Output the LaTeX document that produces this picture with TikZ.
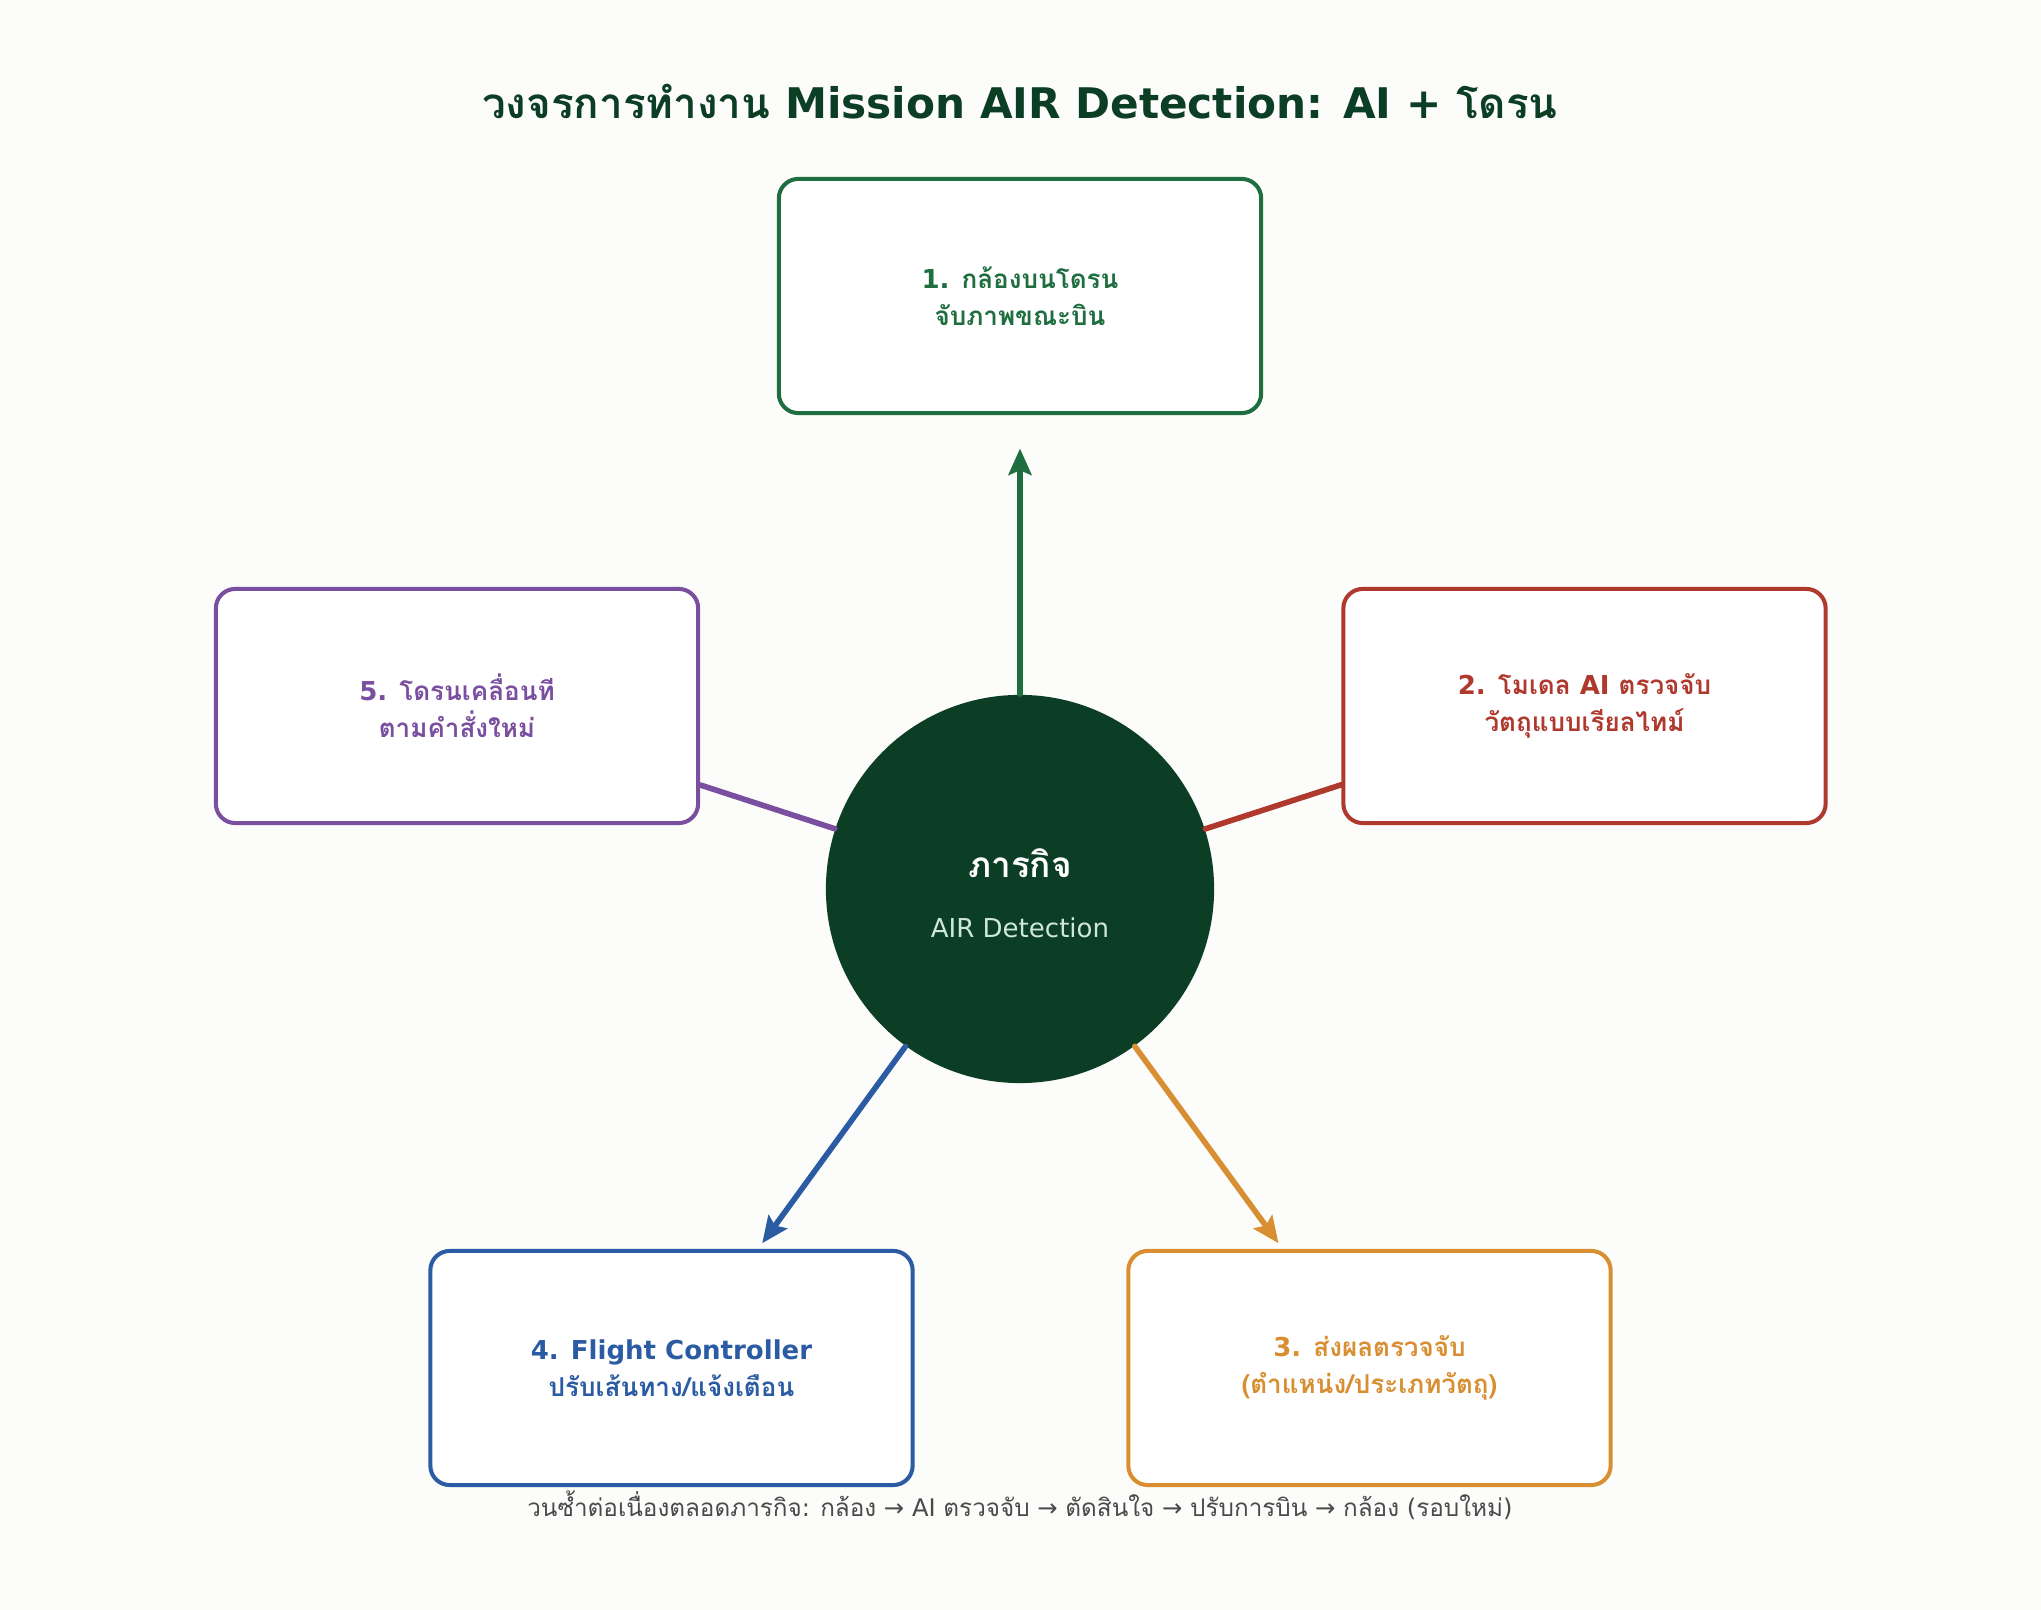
\documentclass[tikz,border=0pt]{standalone}
\usepackage{fontspec}
\setmainfont{DejaVu Sans}
\newfontfamily\thaifont[Script=Thai]{Loma}
\usetikzlibrary{arrows.meta}
\definecolor{bg}{HTML}{FCFCFA}
\definecolor{deep}{HTML}{0C3D25}
\definecolor{cgreen}{HTML}{1F6E40}
\definecolor{cred}{HTML}{B0392E}
\definecolor{cpurple}{HTML}{7A4FA0}
\definecolor{cblue}{HTML}{2B5CA3}
\definecolor{corange}{HTML}{D88F32}
\definecolor{mint}{HTML}{CDE8D6}
\definecolor{note}{HTML}{4A4A4A}
\newcommand\tx[1]{{\thaifont #1}}
\begin{document}
\begin{tikzpicture}[x=0.01cm,y=-0.01cm,
  box/.style={draw,line width=1.15pt,fill=white,rounded corners=5.5pt,minimum width=4.82cm,minimum height=2.34cm,
    align=center,inner sep=0pt,font=\bfseries\fontsize{7.4}{10.5}\selectfont},
  hub/.style={circle,fill=deep,minimum size=3.88cm,inner sep=0pt},
  link/.style={line width=1.6pt,line cap=round},
  flow/.style={link,-{Stealth[length=7.5pt,width=6.5pt,inset=1.3pt]}}]
  \fill[bg] (0,0) rectangle (2041,1610);
  \useasboundingbox (0,0) rectangle (2041,1610);
  % title
  \node[text=deep,font=\bfseries\fontsize{12}{14}\selectfont] (ttl) at (1020,102)
    {\tx{วงจรการทำงาน} Mission AIR Detection: AI + \tx{โดรน}};
  % hub
  \node[hub] (hub) at (1020,889) {};
  \node[text=white,font=\bfseries\fontsize{10}{12}\selectfont] (hubt) at (1020,863) {\tx{ภารกิจ}};
  \node[text=mint,font=\fontsize{7.4}{9}\selectfont] (hubs) at (1020,928) {AIR Detection};
  % steps
  \node[box,draw=cgreen,text=cgreen] (s1) at (1020,296) {1. \tx{กล้องบนโดรน}\\\tx{จับภาพขณะบิน}};
  \node[box,draw=cred,text=cred] (s2) at (1584.5,706) {2. \tx{โมเดล} AI \tx{ตรวจจับ}\\\tx{วัตถุแบบเรียลไทม์}};
  \node[box,draw=corange,text=corange] (s3) at (1369.5,1368) {3. \tx{ส่งผลตรวจจับ}\\\tx{(ตำแหน่ง/ประเภทวัตถุ)}};
  \node[box,draw=cblue,text=cblue] (s4) at (671.5,1368) {4. Flight Controller\\\tx{ปรับเส้นทาง/แจ้งเตือน}};
  \node[box,draw=cpurple,text=cpurple] (s5) at (457,706) {5. \tx{โดรนเคลื่อนที}\\\tx{ตามคำสั่งใหม่}};
  % links
  \draw[flow,cgreen,shorten >=9.5pt] (hub) -- (s1);
  \draw[link,cred] (hub) -- (s2);
  \draw[flow,corange,shorten >=2pt] (hub) -- (s3);
  \draw[flow,cblue,shorten >=2pt] (hub) -- (s4);
  \draw[link,cpurple] (hub) -- (s5);
  % footer
  \node[text=note,font=\fontsize{6.9}{8}\selectfont] (foot) at (1020,1505)
    {\tx{วนซ้ำต่อเนื่องตลอดภารกิจ}: \tx{กล้อง} → AI \tx{ตรวจจับ} → \tx{ตัดสินใจ} → \tx{ปรับการบิน} → \tx{กล้อง} (\tx{รอบใหม่})};
\end{tikzpicture}
\end{document}
